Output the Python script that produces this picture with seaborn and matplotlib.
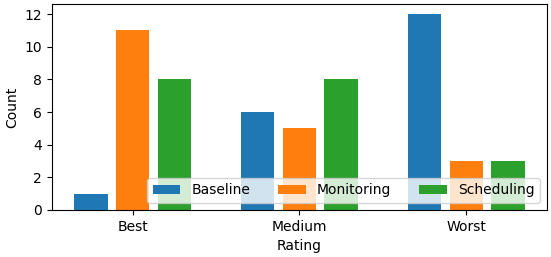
#!/usr/bin/env python3
"""
Bar chart of rating counts per method
"""

import matplotlib
matplotlib.use("Agg")
import matplotlib.pyplot as plt
import seaborn as sns
import pandas as pd

# Data
ratings = ["Best", "Medium", "Worst"]
methods = ["Baseline", "Monitoring", "Scheduling"]
baseline = [1, 6, 12]
monitoring = [11, 5, 3]
scheduling = [8, 8, 3]

df = pd.DataFrame({
    "Rating": ratings * 3,
    "Method": [m for m in methods for _ in ratings],
    "Count": baseline + monitoring + scheduling,
})

fig, ax = plt.subplots(figsize=(5.51, 2.57), dpi=100)
sns.barplot(data=df, x="Rating", y="Count", hue="Method",
            order=ratings, hue_order=methods,
            palette=["#1f77b4", "#ff7f0e", "#2ca02c"],
            saturation=1, width=0.75, gap=0.2, errorbar=None,
            linewidth=0, ax=ax)

ax.set_xlim(-0.485, 2.485)
ax.set_ylim(0, 12.6)
ax.set_xlabel("Rating")
ax.set_ylabel("Count")
ax.legend(loc="lower right", ncol=3)

fig.subplots_adjust(left=0.094, right=0.993, top=0.983, bottom=0.183)
plt.savefig("out.png", dpi=100)
